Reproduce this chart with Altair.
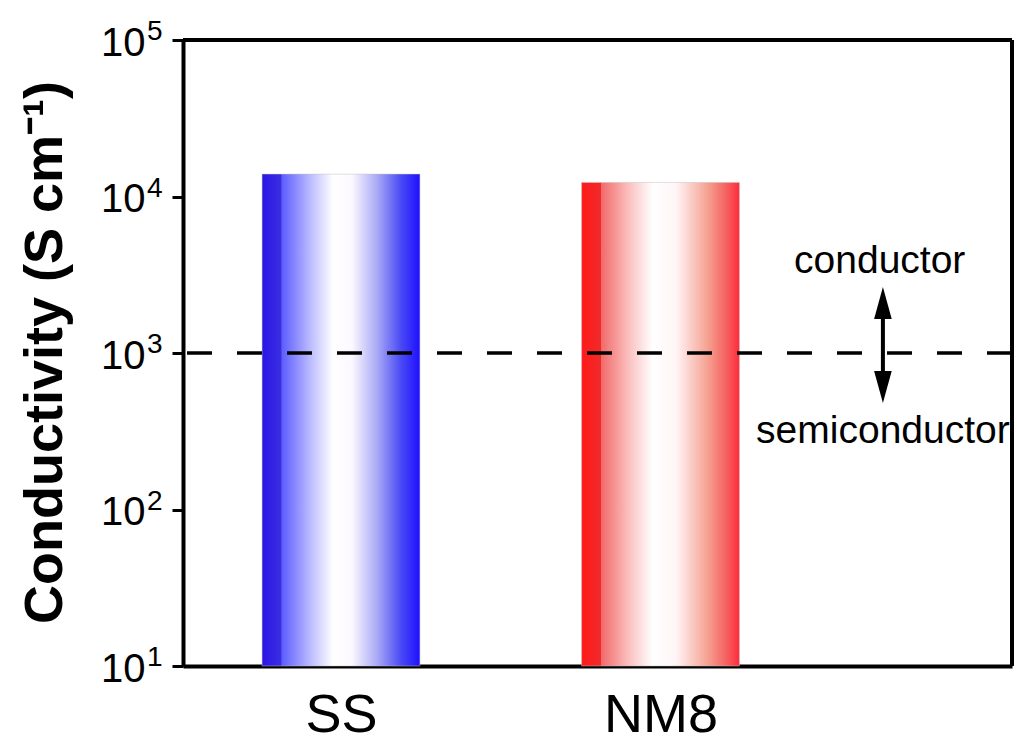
import altair as alt
import pandas as pd

# ---- data ----
categories = ["SS", "NM8"]
conductivity = [13900, 12300]          # S cm^-1
tick_values = [10, 100, 1000, 10000, 100000]
tick_exponents = ["1", "2", "3", "4", "5"]
threshold = [1000]
regime_labels = ["conductor", "semiconductor"]
regime_label_y = [3250, 266]
arrow_tips = [2640, 480]
arrow_shaft = [2000, 620]
arrow_x = 2.696

W, H = 829, 626
half = 0.247
x_domain = [0.5055, 3.100]
y_domain = [10, 100000]
xs = alt.Scale(domain=x_domain, nice=False, zero=False)
ys = alt.Scale(type="log", domain=y_domain, nice=False)

cat_expr = "[" + ",".join("'%s'" % c for c in categories) + "][datum.value-1]"
x_axis = alt.Axis(values=[1, 2], labelExpr=cat_expr, tickSize=0, labelFontSize=54,
                  labelPadding=22, title=None, labelFont="Liberation Sans", labelColor="black",
                  domainColor="black", domainWidth=4, grid=False, labelAngle=0)
y_axis = alt.Axis(values=tick_values, labelExpr="'10'", tickSize=11, tickWidth=3,
                  tickColor="black", labelFontSize=40, labelPadding=27, labelOffset=3,
                  labelFont="Liberation Sans", labelColor="black", domainColor="black",
                  domainWidth=4, grid=False,
                  title="Conductivity (S cm\u207b\u00b9)", titleFont="Liberation Sans",
                  titleFontWeight="bold", titleFontSize=54, titleColor="black",
                  titleX=-138, titleY=312, titleAngle=270, titleAlign="center",
                  titleBaseline="middle")


def X(field):
    return alt.X(field, type="quantitative", scale=xs, axis=x_axis)


def Y(field):
    return alt.Y(field, type="quantitative", scale=ys, axis=y_axis)


bars = pd.DataFrame({"cat": categories, "pos": list(range(1, len(categories) + 1)),
                     "val": conductivity})
bars["x0"] = bars["pos"] - half
bars["x1"] = bars["pos"] + half
bars["base"] = tick_values[0]

blue = alt.Gradient(gradient="linear", x1=0, x2=1, y1=0, y2=0, stops=[
    alt.GradientStop(offset=0, color="#2a14e6"),
    alt.GradientStop(offset=0.12, color="#3a2ee0"),
    alt.GradientStop(offset=0.125, color="#5c5cff"),
    alt.GradientStop(offset=0.3, color="#b8b8ff"),
    alt.GradientStop(offset=0.45, color="#ffffff"),
    alt.GradientStop(offset=0.57, color="#fcf8ff"),
    alt.GradientStop(offset=0.73, color="#a8a8f6"),
    alt.GradientStop(offset=0.88, color="#4a4af5"),
    alt.GradientStop(offset=1, color="#1e0fff"),
])
red = alt.Gradient(gradient="linear", x1=0, x2=1, y1=0, y2=0, stops=[
    alt.GradientStop(offset=0, color="#ff1a1a"),
    alt.GradientStop(offset=0.12, color="#f02a2a"),
    alt.GradientStop(offset=0.125, color="#f26a6a"),
    alt.GradientStop(offset=0.3, color="#fbc0c0"),
    alt.GradientStop(offset=0.45, color="#ffffff"),
    alt.GradientStop(offset=0.6, color="#fff4f6"),
    alt.GradientStop(offset=0.8, color="#f5a090"),
    alt.GradientStop(offset=0.92, color="#f56060"),
    alt.GradientStop(offset=1, color="#ff2a3a"),
])

layers = []
for i, grad in enumerate([blue, red]):
    layers.append(
        alt.Chart(bars.iloc[[i]]).mark_bar(color=grad, stroke="#c0c0c0", strokeWidth=0.8,
                                           strokeOpacity=0.6)
        .encode(x=X("x0"), x2="x1", y=Y("val"), y2="base")
    )

thr = pd.DataFrame({"y": threshold})
layers.append(
    alt.Chart(thr).mark_rule(color="black", strokeWidth=3.5, strokeDash=[25, 25])
    .encode(y=Y("y"))
)

# top and right frame lines
frame_top = pd.DataFrame({"y": [y_domain[1]]})
layers.append(
    alt.Chart(frame_top).mark_rule(color="black", strokeWidth=4).encode(y=Y("y"))
)
frame_right = pd.DataFrame({"x": [x_domain[1]]})
layers.append(
    alt.Chart(frame_right).mark_rule(color="black", strokeWidth=4).encode(x=X("x"))
)

shaft = pd.DataFrame({"x": [arrow_x], "y": [arrow_shaft[0]], "y2": [arrow_shaft[1]]})
layers.append(
    alt.Chart(shaft).mark_rule(color="black", strokeWidth=4)
    .encode(x=X("x"), y=Y("y"), y2="y2")
)
heads = pd.DataFrame({"x": [arrow_x, arrow_x], "y": arrow_tips,
                      "dir": ["up", "down"]})
layers.append(
    alt.Chart(heads[heads.dir == "up"]).mark_point(
        shape="M0,0L0.55,2L-0.55,2Z", size=1024, filled=True, color="black", opacity=1)
    .encode(x=X("x"), y=Y("y"))
)
layers.append(
    alt.Chart(heads[heads.dir == "down"]).mark_point(
        shape="M0,0L0.55,-2L-0.55,-2Z", size=1024, filled=True, color="black", opacity=1)
    .encode(x=X("x"), y=Y("y"))
)

labs = pd.DataFrame({"t": regime_labels, "y": regime_label_y, "x": [arrow_x - 0.01, arrow_x]})
layers.append(
    alt.Chart(labs).mark_text(font="Liberation Sans", fontSize=39, color="black",
                              align="center", baseline="alphabetic")
    .encode(x=X("x"), y=Y("y"), text="t")
)

exps = pd.DataFrame({"v": tick_values, "e": tick_exponents})
layers.append(
    alt.Chart(exps).mark_text(font="Liberation Sans", fontSize=28, color="black",
                              align="left", baseline="alphabetic", dx=0, dy=0)
    .encode(x=alt.value(-36), y=Y("v"), text="e")
)

chart = (
    alt.layer(*layers)
    .properties(width=W, height=H, autosize="none",
                padding={"left": 183, "top": 40, "right": 5, "bottom": 77})
    .configure_view(stroke=None)
    .configure(background="white")
)

chart.save("out.html", embed_options={"renderer": "svg", "actions": False})
